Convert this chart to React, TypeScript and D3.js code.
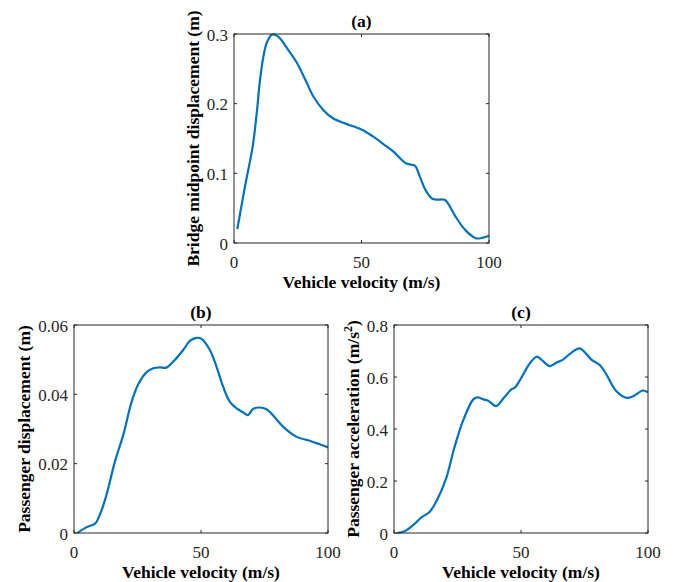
import * as d3 from 'd3';

// (a) bridge midpoint displacement vs vehicle velocity
const velocityA = [1.3, 4.3, 7.3, 8.9, 10.2, 11.5, 12.8, 14.8, 16.1, 18, 21.3, 24.6, 28.4, 31, 35, 38.8, 44, 50, 54.5, 59.7, 62.3, 67.6, 70.9, 72.8, 75.4, 78, 82.6, 83.9, 87.2, 91.1, 95, 97.6, 100];
const bridgeDisp = [0.02, 0.081, 0.138, 0.186, 0.234, 0.267, 0.287, 0.299, 0.299, 0.294, 0.277, 0.259, 0.231, 0.211, 0.191, 0.179, 0.171, 0.163, 0.153, 0.139, 0.132, 0.114, 0.111, 0.096, 0.074, 0.063, 0.062, 0.057, 0.036, 0.017, 0.0067, 0.0077, 0.0105];

// (b) passenger displacement
const velocityB = [1.3, 5, 8.3, 10.2, 12.8, 16.1, 19.4, 22.7, 25.3, 28.6, 31.2, 33.8, 36.4, 39, 43, 45.6, 48.2, 50.2, 53.5, 56.1, 58.7, 61.3, 63.9, 66.6, 68.5, 70.5, 73.1, 75.8, 78.4, 82.3, 87.5, 92.8, 96.7, 100];
const passengerDisp = [0, 0.0017, 0.0027, 0.0053, 0.011, 0.0206, 0.0283, 0.0379, 0.0429, 0.0464, 0.0475, 0.0478, 0.0477, 0.0494, 0.0528, 0.0554, 0.0563, 0.056, 0.0528, 0.048, 0.0422, 0.0379, 0.036, 0.0348, 0.034, 0.0358, 0.0362, 0.0357, 0.0339, 0.0307, 0.0278, 0.0266, 0.0256, 0.0247];

// (c) passenger acceleration
const velocityC = [1.2, 4.2, 7.5, 10.8, 14, 16.7, 20.6, 23.7, 27.3, 31.2, 32.8, 35.2, 37.1, 40.2, 43.1, 46.3, 47.6, 49.6, 53.5, 56.2, 58, 61.3, 63.9, 66.5, 69.8, 73.1, 75.7, 77.7, 81, 83.6, 87.5, 91.5, 94.1, 98, 100];
const passengerAcc = [0, 0.0064, 0.03, 0.06, 0.081, 0.122, 0.212, 0.326, 0.435, 0.514, 0.522, 0.514, 0.509, 0.488, 0.518, 0.553, 0.559, 0.588, 0.653, 0.678, 0.667, 0.642, 0.655, 0.667, 0.693, 0.71, 0.689, 0.667, 0.646, 0.61, 0.546, 0.52, 0.526, 0.548, 0.541];

const xTicks = [0, 50, 100];
const yTicksA = [0, 0.1, 0.2, 0.3];
const yTicksB = [0, 0.02, 0.04, 0.06];
const yTicksC = [0, 0.2, 0.4, 0.6, 0.8];

const FONT = 'Liberation Serif, Times New Roman, serif';
const AXIS = '#262626';
const LINE = '#0072BD';

type PanelProps = {
  box: { left: number; top: number; width: number; height: number };
  xs: number[];
  ys: number[];
  yMax: number;
  yTicks: number[];
  title: string;
  yLabel: any;
  labelGap: number;
};

function Panel({ box, xs, ys, yMax, yTicks, title, yLabel, labelGap }: PanelProps) {
  const { left, top, width, height } = box;
  const x = d3.scaleLinear().domain([0, 100]).range([left, left + width]);
  const y = d3.scaleLinear().domain([0, yMax]).range([top + height, top]);
  const line = d3.line<number>()
    .x((_, i) => x(xs[i]))
    .y(d => y(d))
    .curve(d3.curveCatmullRom.alpha(0.5));
  const tl = 3;
  const bottom = top + height;
  const right = left + width;

  return (
    <g fontFamily={FONT}>
      <path d={line(ys) || ''} fill="none" stroke={LINE} strokeWidth={2.2} strokeLinejoin="round" />
      <rect x={left} y={top} width={width} height={height} fill="none" stroke={AXIS} strokeWidth={1} />
      {xTicks.map(t => (
        <g key={'x' + t}>
          <line x1={x(t)} x2={x(t)} y1={bottom} y2={bottom - tl} stroke={AXIS} />
          <line x1={x(t)} x2={x(t)} y1={top} y2={top + tl} stroke={AXIS} />
          <text x={x(t)} y={bottom + 25} textAnchor="middle" fontSize={17} fill={AXIS} fontFamily={FONT}>{t}</text>
        </g>
      ))}
      {yTicks.map(t => (
        <g key={'y' + t}>
          <line x1={left} x2={left + tl} y1={y(t)} y2={y(t)} stroke={AXIS} />
          <line x1={right} x2={right - tl} y1={y(t)} y2={y(t)} stroke={AXIS} />
          <text x={left - 6} y={y(t) + 6.5} textAnchor="end" fontSize={17} fill={AXIS} fontFamily={FONT}>{String(t)}</text>
        </g>
      ))}
      <text x={left + width / 2} y={top - 7} textAnchor="middle" fontSize={17.5} fontWeight="bold" fill="#000" fontFamily={FONT}>{title}</text>
      <text x={left + width / 2} y={bottom + 45} textAnchor="middle" fontSize={17.5} fontWeight="bold" fill="#000" fontFamily={FONT}>Vehicle velocity (m/s)</text>
      <text transform={`translate(${left - labelGap},${top + height / 2}) rotate(-90)`} textAnchor="middle" fontSize={17.5} fontWeight="bold" fill="#000" fontFamily={FONT}>{yLabel}</text>
    </g>
  );
}

export default function App() {
  return (
    <svg width={674} height={582} style={{ position: 'absolute', left: 0, top: 0, background: '#fff' }}>
      <rect width={674} height={582} fill="#fff" />
      <Panel
        box={{ left: 234, top: 34, width: 255, height: 209 }}
        xs={velocityA} ys={bridgeDisp} yMax={0.3} yTicks={yTicksA}
        title="(a)" yLabel="Bridge midpoint displacement (m)" labelGap={35}
      />
      <Panel
        box={{ left: 74, top: 325, width: 254, height: 208 }}
        xs={velocityB} ys={passengerDisp} yMax={0.06} yTicks={yTicksB}
        title="(b)" yLabel="Passenger displacement (m)" labelGap={44}
      />
      <Panel
        box={{ left: 394, top: 325, width: 254, height: 208 }}
        xs={velocityC} ys={passengerAcc} yMax={0.8} yTicks={yTicksC}
        title="(c)" labelGap={35.5}
        yLabel={<>Passenger acceleration (m/s<tspan baselineShift="super" fontSize={12}>2</tspan>)</>}
      />
    </svg>
  );
}
